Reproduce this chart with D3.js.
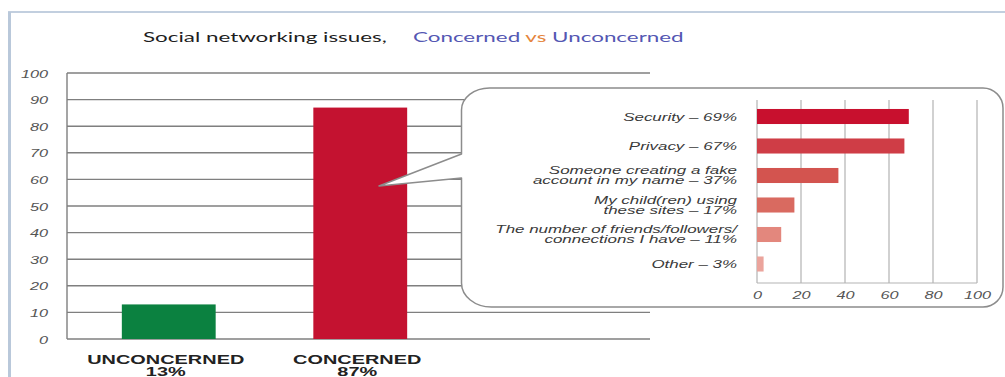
<!DOCTYPE html>
<html>
<head>
<meta charset="utf-8">
<script src="https://cdn.jsdelivr.net/npm/d3@7"></script>
<style>
  html, body { margin: 0; padding: 0; background: #ffffff; }
  svg { display: block; }
</style>
</head>
<body>
<svg id="chart" width="1005" height="377"></svg>
<script>
// ---- data ----
const titleLead = "Social networking issues,";
const titleWords = ["Concerned", "vs", "Unconcerned"];
const categories = ["UNCONCERNED", "CONCERNED"];
const shares = [13, 87];
const shareTicks = [0, 10, 20, 30, 40, 50, 60, 70, 80, 90, 100];
const issueNames = [
  ["Security"],
  ["Privacy"],
  ["Someone creating a fake", "account in my name"],
  ["My child(ren) using", "these sites"],
  ["The number of friends/followers/", "connections I have"],
  ["Other"]
];
const issueShares = [69, 67, 37, 17, 11, 3];
const issueTicks = [0, 20, 40, 60, 80, 100];

// ---- styles ----
const SX = 1.48;            // horizontal stretch applied to chart lettering
const SX_CAT = 1.66;
const SX_CALLOUT = 1.54;
const SX_TITLE = 1.6;
const gridColor = "#7f7f7f";
const barColors = ["#0b8140", "#c41230"];
const issueColors = ["#c8102e", "#cf3d46", "#d3544f", "#d96a60", "#e3877d", "#eba49c"];
const titleColors = ["#5457b3", "#e5853c", "#5457b3"];

const svg = d3.select("#chart");

// outer frame
svg.append("line").attr("x1", 8).attr("x2", 1005).attr("y1", 12).attr("y2", 12)
  .attr("stroke", "#c2cfdf").attr("stroke-width", 2);
svg.append("line").attr("x1", 9.5).attr("x2", 9.5).attr("y1", 12).attr("y2", 377)
  .attr("stroke", "#b9c8da").attr("stroke-width", 3);

// helper: text placed at (x,y) and stretched horizontally
function label(parent, x, y, txt, sx) {
  return parent.append("text")
    .attr("transform", `translate(${x},${y}) scale(${sx},1)`)
    .text(txt);
}

// title
label(svg, 143, 42, titleLead, SX_TITLE)
  .attr("font-family", "Lato, 'Open Sans', sans-serif")
  .attr("font-size", 14).attr("fill", "#1e1e1e");
const t2 = svg.append("text")
  .attr("transform", `translate(413,42) scale(${SX_TITLE},1)`)
  .attr("font-family", "Lato, 'Open Sans', sans-serif")
  .attr("font-size", 14);
titleWords.forEach((w, i) => {
  t2.append("tspan").attr("fill", titleColors[i]).text((i ? " " : "") + w);
});

// ---- main bar chart ----
const y = d3.scaleLinear().domain([0, 100]).range([339, 73]);
const plotLeft = 67, plotRight = 650;
const x = d3.scaleBand().domain(categories).range([73, 456])
  .paddingInner(0.51).paddingOuter(0.255);

svg.append("g").selectAll("line").data(shareTicks).join("line")
  .attr("x1", plotLeft).attr("x2", plotRight)
  .attr("y1", d => y(d)).attr("y2", d => y(d))
  .attr("stroke", gridColor).attr("stroke-width", 1.4);
svg.append("line").attr("x1", plotLeft).attr("x2", plotLeft)
  .attr("y1", y(100)).attr("y2", y(0))
  .attr("stroke", gridColor).attr("stroke-width", 1.4);

const yAxis = svg.append("g").attr("transform", `translate(${plotLeft},0)`)
  .call(d3.axisLeft(y).tickValues(shareTicks).tickSize(0).tickPadding(0));
yAxis.select(".domain").remove();
yAxis.selectAll("text")
  .attr("x", -19 / SX).attr("dy", null).attr("y", 0)
  .attr("transform", `translate(0,4) scale(${SX},1)`)
  .attr("font-family", "Arial, 'Liberation Sans', sans-serif")
  .attr("font-style", "italic").attr("font-size", 11).attr("fill", "#555");

svg.append("g").selectAll("rect").data(categories).join("rect")
  .attr("x", d => x(d)).attr("width", x.bandwidth())
  .attr("y", (d, i) => y(shares[i])).attr("height", (d, i) => y(0) - y(shares[i]))
  .attr("fill", (d, i) => barColors[i]);

// category name with its share underneath
const xl = svg.append("g")
  .attr("font-family", "Arial, 'Liberation Sans', sans-serif")
  .attr("font-weight", "bold").attr("font-size", 12)
  .attr("fill", "#222").attr("text-anchor", "middle");
categories.forEach((c, i) => {
  const cx = x(c) + x.bandwidth() / 2 - 3;
  label(xl, cx, 364, c, SX_CAT);
  label(xl, cx, 376, shares[i] + "%", SX_CAT);
});

// ---- callout ----
const L = 461.5, T = 88, R = 1003, B = 307;
const tl = [28, 22], bl = [30, 24], tr = [20, 20];
const notchTop = 154, notchBot = 178, tip = [379, 186];
const bubble = [
  `M${L},${notchTop}`, `L${L},${T + tl[1]}`,
  `A${tl[0]},${tl[1]} 0 0 1 ${L + tl[0]},${T}`,
  `L${R - tr[0]},${T}`, `A${tr[0]},${tr[1]} 0 0 1 ${R},${T + tr[1]}`,
  `L${R},${B - tr[1]}`, `A${tr[0]},${tr[1]} 0 0 1 ${R - tr[0]},${B}`,
  `L${L + bl[0]},${B}`, `A${bl[0]},${bl[1]} 0 0 1 ${L},${B - bl[1]}`,
  `L${L},${notchBot}`, `L${tip[0]},${tip[1]}`, "Z"
].join(" ");
svg.append("path").attr("d", bubble)
  .attr("fill", "#fff").attr("stroke", "#8c8c8c").attr("stroke-width", 1.5)
  .attr("stroke-linejoin", "round");

// inner horizontal bar chart
const xs = d3.scaleLinear().domain([0, 100]).range([757, 977]);
const yb = d3.scaleBand().domain(d3.range(issueShares.length)).range([101.75, 278.75])
  .paddingInner(0.49).paddingOuter(0.245);
const innerTop = 100, innerBottom = 283;

svg.append("g").selectAll("line").data(issueTicks).join("line")
  .attr("x1", d => xs(d)).attr("x2", d => xs(d))
  .attr("y1", innerTop).attr("y2", innerBottom)
  .attr("stroke", "#b3b3b3").attr("stroke-width", 1.2);
svg.append("line").attr("x1", xs(0)).attr("x2", xs(100))
  .attr("y1", innerBottom).attr("y2", innerBottom)
  .attr("stroke", "#b3b3b3").attr("stroke-width", 1.2);

svg.append("g").selectAll("rect").data(issueShares).join("rect")
  .attr("x", xs(0)).attr("y", (d, i) => yb(i))
  .attr("width", d => xs(d) - xs(0)).attr("height", yb.bandwidth())
  .attr("fill", (d, i) => issueColors[i]);

const il = svg.append("g")
  .attr("font-family", "Arial, 'Liberation Sans', sans-serif")
  .attr("font-style", "italic").attr("font-size", 11)
  .attr("fill", "#3a3a3a").attr("text-anchor", "end");
issueNames.forEach((lines, i) => {
  const cy = yb(i) + yb.bandwidth() / 2;
  const last = lines.length - 1;
  const by = lines.length === 1 ? cy + 4 : cy - 1.5;
  const t = il.append("text")
    .attr("transform", `translate(737,${by}) scale(${SX_CALLOUT},1)`);
  lines.forEach((ln, k) => {
    t.append("tspan").attr("x", 0).attr("dy", k ? 10.5 : 0)
      .text(k === last ? `${ln} \u2013 ${issueShares[i]}%` : ln);
  });
});

const xAxis = svg.append("g").attr("transform", `translate(0,${innerBottom})`)
  .call(d3.axisBottom(xs).tickValues(issueTicks).tickSize(0).tickPadding(0));
xAxis.select(".domain").remove();
xAxis.selectAll("text")
  .attr("y", 0).attr("dy", null)
  .attr("transform", `translate(0,16) scale(${SX},1)`)
  .attr("font-family", "Arial, 'Liberation Sans', sans-serif")
  .attr("font-style", "italic").attr("font-size", 11).attr("fill", "#555");
</script>
</body>
</html>
